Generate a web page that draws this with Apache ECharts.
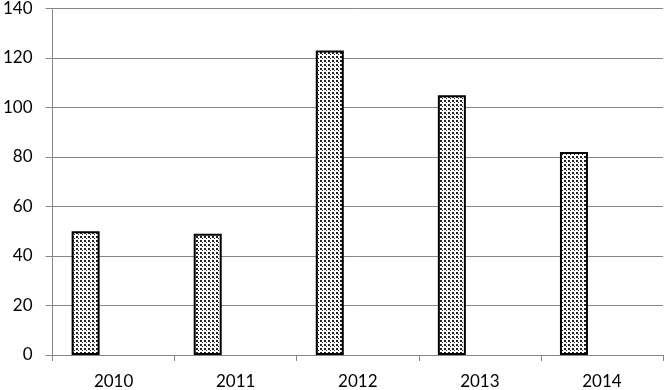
<!DOCTYPE html>
<html><head><meta charset="utf-8">
<script src="https://cdn.jsdelivr.net/npm/echarts@6/dist/echarts.min.js"></script>
<style>html,body{margin:0;padding:0;background:#fff}#c{width:664px;height:390px}</style>
</head><body><div id="c"></div>
<script>
const categories = ['2010', '2011', '2012', '2013', '2014'];
const values = [50, 49, 123, 105, 82];
const yTicks = [0, 20, 40, 60, 80, 100, 120, 140];

const pc = document.createElement('canvas');
pc.width = 4; pc.height = 4;
const g = pc.getContext('2d');
g.fillStyle = '#ffffff'; g.fillRect(0, 0, 4, 4);
g.fillStyle = '#222222';
g.fillRect(0, 0, 2, 2);
g.fillRect(2, 2, 1, 1);

const chart = echarts.init(document.getElementById('c'), null, {renderer: 'canvas'});
const font = 'Lato, "Open Sans", sans-serif';
chart.setOption({
  animation: false,
  grid: {left: 49, right: 1, top: 7, bottom: 33, containLabel: false},
  xAxis: {
    type: 'category', data: categories,
    axisLine: {lineStyle: {color: '#868686', width: 1}},
    axisTick: {show: true, length: 6, lineStyle: {color: '#868686'}},
    axisLabel: {color: '#000', fontFamily: font, fontSize: 17, margin: 18}
  },
  yAxis: {
    type: 'value', min: yTicks[0], max: yTicks[yTicks.length - 1], interval: 20,
    axisLine: {show: true, lineStyle: {color: '#868686', width: 1}},
    axisTick: {show: true, length: 7, lineStyle: {color: '#868686'}},
    splitLine: {lineStyle: {color: '#868686', width: 1}},
    axisLabel: {color: '#000', fontFamily: font, fontSize: 17, margin: 20}
  },
  series: [
    {type: 'bar', data: values, barWidth: 28, barGap: '0%',
     itemStyle: {color: {image: pc, repeat: 'repeat'}, borderColor: '#000', borderWidth: 2}},
    {type: 'bar', data: [], barWidth: 28, barGap: '0%'},
    {type: 'bar', data: [], barWidth: 28, barGap: '0%'}
  ]
});
</script></body></html>
